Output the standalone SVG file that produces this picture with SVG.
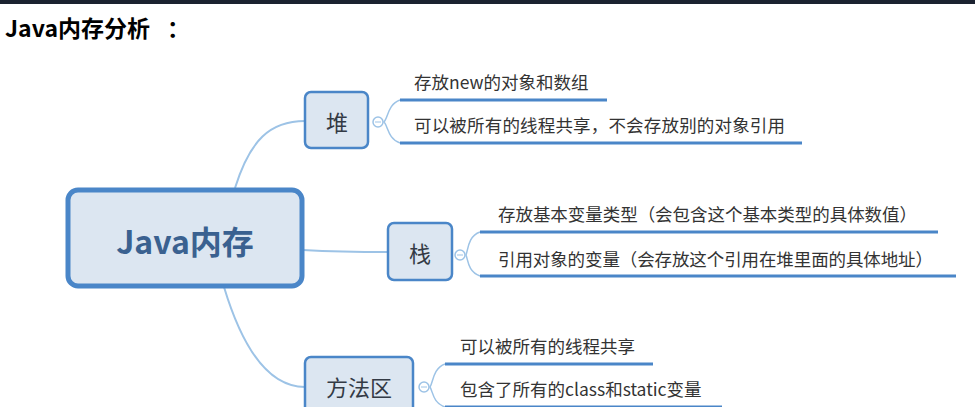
<svg xmlns="http://www.w3.org/2000/svg" width="975" height="407" viewBox="0 0 975 407">
<style>
.cjk{font-family:"Noto Sans CJK SC","Liberation Sans",sans-serif}
.node rect{fill:#dce6f1;stroke:#4a86c8;stroke-width:2.5}
.nlabel{font-size:22px;fill:#333a45;text-anchor:middle;dominant-baseline:central}
.leaf{font-size:17.5px;fill:#333}
.conn{fill:none;stroke:#9dc3e6;stroke-width:2}
.bar{fill:none;stroke:#4a86c8;stroke-width:3}
.br{fill:none;stroke:#9dc3e6;stroke-width:1.5}
.tog{fill:#fff;stroke:#9dc3e6;stroke-width:1.5}
</style>
<rect x="0" y="0" width="975" height="4" fill="#1b2230"/>
<text class="cjk" x="5" y="37" font-size="23" font-weight="bold" fill="#000">Java内存分析<tspan x="167">：</tspan></text>
<g id="connectors">
<path class="conn" d="M235,188 C250,140 270,121 305,121"/>
<path class="conn" d="M303,250 C340,252 360,252 388,252"/>
<path class="conn" d="M224,287 C240,340 265,387 305,387"/>
<path class="br" d="M400,100 C388,104 388,118 384,122 C388,126 388,139 400,143"/>
<path class="br" d="M480,232 C468,236 468,250 466,255 C468,260 468,272 480,276"/>
<path class="br" d="M445,364 C433,368 433,383 430,387 C433,392 433,403 445,407"/>
</g>
<g id="root" class="node">
<rect x="68" y="190" width="234" height="96" rx="10" style="stroke-width:5"/>
<text class="cjk" x="185" y="240" font-size="32" font-weight="bold" fill="#3a6190" text-anchor="middle" dominant-baseline="central">Java内存</text>
</g>
<g id="heap" class="node">
<rect x="305" y="92" width="63" height="56" rx="6"/>
<text class="cjk nlabel" x="337" y="121">堆</text>
<circle class="tog" cx="378" cy="122" r="5"/>
<line x1="375" y1="122" x2="381" y2="122" stroke="#9dc3e6" stroke-width="1"/>
</g>
<g id="heap-1">
<text class="cjk leaf" x="414" y="89">存放new的对象和数组</text>
<line class="bar" x1="400" y1="100" x2="607" y2="100"/>
</g>
<g id="heap-2">
<text class="cjk leaf" x="414" y="132" textLength="371">可以被所有的线程共享，不会存放别的对象引用</text>
<line class="bar" x1="400" y1="143" x2="802" y2="143"/>
</g>
<g id="stack" class="node">
<rect x="388" y="223" width="64" height="57" rx="6"/>
<text class="cjk nlabel" x="420" y="252">栈</text>
<circle class="tog" cx="460" cy="255" r="5"/>
<line x1="457" y1="255" x2="463" y2="255" stroke="#9dc3e6" stroke-width="1"/>
</g>
<g id="stack-1">
<text class="cjk leaf" x="498" y="221" textLength="419">存放基本变量类型（会包含这个基本类型的具体数值）</text>
<line class="bar" x1="480" y1="232" x2="938" y2="232"/>
</g>
<g id="stack-2">
<text class="cjk leaf" x="498" y="266" textLength="435">引用对象的变量（会存放这个引用在堆里面的具体地址）</text>
<line class="bar" x1="480" y1="276" x2="956" y2="276"/>
</g>
<g id="method" class="node">
<rect x="305" y="357" width="108" height="58" rx="6"/>
<text class="cjk nlabel" x="359" y="386">方法区</text>
<circle class="tog" cx="424" cy="387" r="5"/>
<line x1="421" y1="387" x2="427" y2="387" stroke="#9dc3e6" stroke-width="1"/>
</g>
<g id="method-1">
<text class="cjk leaf" x="460" y="353">可以被所有的线程共享</text>
<line class="bar" x1="445" y1="364" x2="653" y2="364"/>
</g>
<g id="method-2">
<text class="cjk leaf" x="460" y="396">包含了所有的class和static变量</text>
<line class="bar" x1="445" y1="407" x2="722" y2="407"/>
</g>
</svg>
